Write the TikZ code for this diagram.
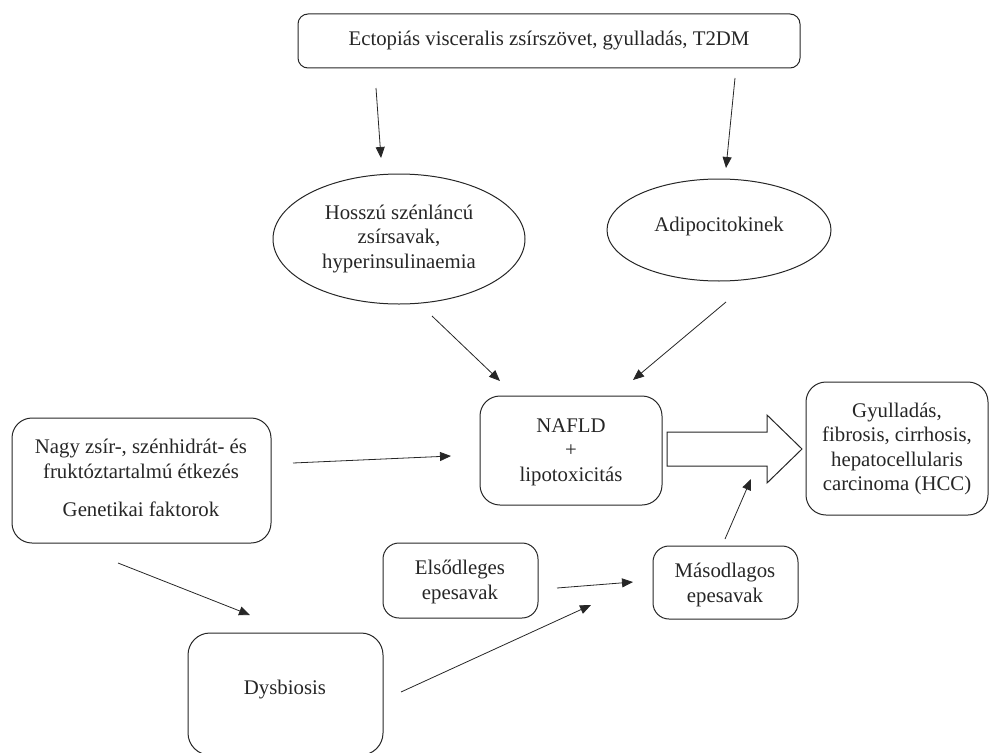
\documentclass[tikz,border=0pt]{standalone}
\usepackage{fontspec}
\setmainfont{Liberation Serif}
\usetikzlibrary{arrows.meta,shapes.geometric}
\tikzset{
  shp/.style={draw=black!85, line width=1pt, inner sep=0pt},
  rbox/.style={shp, rectangle, rounded corners=#1},
  oval/.style={shp, ellipse},
  txt/.style={align=center, inner sep=0pt, font=\fontsize{20.8}{24.5}\selectfont, text=black!85},
  arr/.style={draw=black!85, line width=0.8pt, -{Triangle[length=11pt,width=9pt]}},
  bigarrow/.style={draw=black!85, line width=1pt, fill=white}
}
\begin{document}
\begin{tikzpicture}[x=1pt,y=-1pt]
\useasboundingbox (0,0) rectangle (990,752);
\clip (0,0) rectangle (990,752);
% shapes
\node[rbox=10pt, minimum width=502pt, minimum height=54pt] (top) at (549,41) {};
\node[oval, minimum width=252pt, minimum height=130pt] (ell1) at (399,239) {};
\node[oval, minimum width=224pt, minimum height=102pt] (ell2) at (719,230) {};
\node[rbox=20pt, minimum width=182pt, minimum height=109pt] (nafld) at (571,450.5) {};
\node[rbox=20pt, minimum width=182pt, minimum height=133pt] (hcc) at (897,448.5) {};
\node[rbox=20pt, minimum width=259pt, minimum height=125pt] (diet) at (141.5,480.5) {};
\node[rbox=16pt, minimum width=155pt, minimum height=75pt] (prim) at (460.5,580.5) {};
\node[rbox=16pt, minimum width=145pt, minimum height=73pt] (sec) at (725.5,582.5) {};
\node[rbox=22pt, minimum width=195pt, minimum height=122pt] (dys) at (285.5,694) {};
% texts
\node[txt] (toptxt) at (549,41) {Ectopiás visceralis zsírszövet, gyulladás, T2DM};
\node[txt] (ell1txt) at (399,239) {Hosszú szénláncú\\zsírsavak,\\hyperinsulinaemia};
\node[txt] (ell2txt) at (719,226) {Adipocitokinek};
\node[txt] (nafldtxt) at (571,452) {NAFLD\\+\\lipotoxicitás};
\node[txt] (hcctxt) at (897,449) {Gyulladás,\\fibrosis, cirrhosis,\\hepatocellularis\\carcinoma (HCC)};
\node[txt] (diettxt) at (141,478) {Nagy zsír-, szénhidrát- és\\fruktóztartalmú étkezés\\[14pt]Genetikai faktorok};
\node[txt] (primtxt) at (460,582) {Elsődleges\\epesavak};
\node[txt] (sectxt) at (725,585) {Másodlagos\\epesavak};
\node[txt] (dystxt) at (285,690) {Dysbiosis};
% big arrow
\draw[bigarrow] (667,432) -- (767,432) -- (767,415) -- (802,449) -- (767,483) -- (767,466) -- (667,466) -- cycle;
% connector end points
\coordinate (a1s) at (376,88);  \coordinate (a1e) at (381,158);
\coordinate (a2s) at (735,78);  \coordinate (a2e) at (726,168);
\coordinate (a3s) at (432,316); \coordinate (a3e) at (500,381);
\coordinate (a4s) at (726,302); \coordinate (a4e) at (633,380);
\coordinate (a5s) at (293,463); \coordinate (a5e) at (451,456);
\coordinate (a6s) at (118,563); \coordinate (a6e) at (250,615);
\coordinate (a7s) at (401,692); \coordinate (a7e) at (591,605);
\coordinate (a8s) at (557,588); \coordinate (a8e) at (633,582);
\coordinate (a9s) at (725,539); \coordinate (a9e) at (751,479);
\draw[arr] (a1s) -- (a1e);
\draw[arr] (a2s) -- (a2e);
\draw[arr] (a3s) -- (a3e);
\draw[arr] (a4s) -- (a4e);
\draw[arr] (a5s) -- (a5e);
\draw[arr] (a6s) -- (a6e);
\draw[arr] (a7s) -- (a7e);
\draw[arr] (a8s) -- (a8e);
\draw[arr] (a9s) -- (a9e);
\end{tikzpicture}
\end{document}
